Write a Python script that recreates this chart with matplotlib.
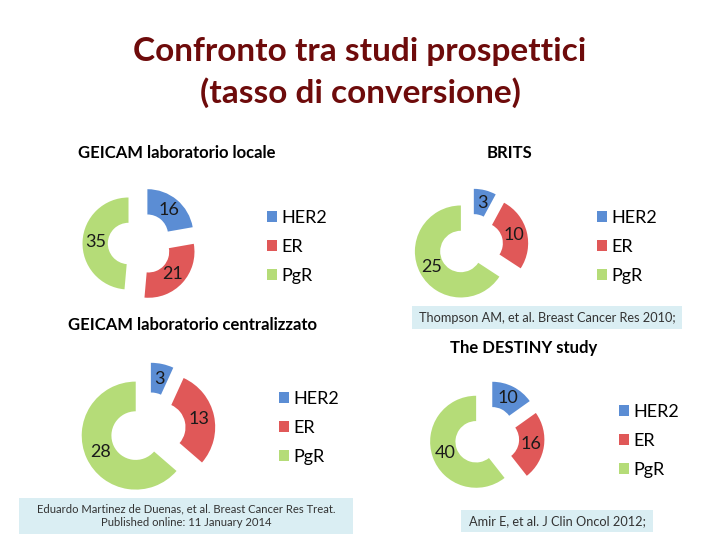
import matplotlib.pyplot as plt
from matplotlib.patches import Rectangle

plt.rcParams['font.family'] = ['Lato', 'DejaVu Sans']

# dati
markers = ['HER2', 'ER', 'PgR']
colors = ['#5B8DD4', '#E05858', '#B5DC78']

titles = ['GEICAM laboratorio locale', 'BRITS',
          'GEICAM laboratorio centralizzato', 'The DESTINY study']
geicam_locale = [16, 21, 35]
brits = [3, 10, 25]
geicam_centr = [3, 13, 28]
destiny = [10, 16, 40]

refs = ['', 'Thompson AM, et al. Breast Cancer Res 2010;',
        'Eduardo Martinez de Duenas, et al. Breast Cancer Res Treat.\nPublished online: 11 January 2014',
        'Amir E, et al. J Clin Oncol 2012;']

W, H = 720, 540
fig = plt.figure(figsize=(7.2, 5.4), dpi=100)
fig.patch.set_facecolor('white')


def fx(x):
    return x / W


def fy(y):
    return 1 - y / H


# titolo
fig.text(fx(360), fy(52), 'Confronto tra studi prospettici', ha='center', va='center',
         fontsize=24, fontweight='bold', color='#6E0B0B')
fig.text(fx(360), fy(93), '(tasso di conversione)', ha='center', va='center',
         fontsize=24, fontweight='bold', color='#6E0B0B')

# (centro x, centro y, raggio, titolo xy, legenda xy, box, font box)
layout = [
    (140, 244, 46, (177, 153), (267, 247), None, 9),
    (471, 246, 46, (510, 153), (597, 247), (412, 306, 682, 329), 9.2),
    (148, 430, 54, (193, 325), (279, 428), (19, 498, 353, 534), 8.1),
    (487, 438, 46, (524, 348), (619, 441), (461, 510, 653, 532), 9.2),
]
data = [geicam_locale, brits, geicam_centr, destiny]

for vals, title, ref, (cx, cy, R, tpos, lpos, box, bfs) in zip(data, titles, refs, layout):
    lim = 1.4
    ax = fig.add_axes([fx(cx - lim * R), fy(cy + lim * R), 2 * lim * R / W, 2 * lim * R / H])
    wedges, texts = ax.pie(vals, colors=colors, startangle=90, counterclock=False,
                           explode=[0.25] * len(vals),
                           labels=[str(v) for v in vals], labeldistance=0.72,
                           wedgeprops=dict(width=0.55, edgecolor='none'),
                           textprops=dict(ha='center', va='center', fontsize=13, color='#1a1a1a'))
    ax.set_xlim(-lim, lim)
    ax.set_ylim(-lim, lim)

    fig.text(fx(tpos[0]), fy(tpos[1]), title, ha='center', va='center',
             fontsize=12, fontweight='bold', color='black')

    fig.legend(wedges, markers, loc='center left', bbox_to_anchor=(fx(lpos[0]), fy(lpos[1])),
               frameon=False, fontsize=13, handlelength=0.55, handleheight=0.55,
               handletextpad=0.25, labelspacing=0.72, borderpad=0, borderaxespad=0)

    if box is not None:
        x0, y0, x1, y1 = box
        fig.patches.append(Rectangle((fx(x0), fy(y1)), (x1 - x0) / W, (y1 - y0) / H,
                                     transform=fig.transFigure, facecolor='#DAEEF3',
                                     edgecolor='none', zorder=0))
        fig.text(fx((x0 + x1) / 2), fy((y0 + y1) / 2), ref, ha='center', va='center',
                 fontsize=bfs, color='#333333', linespacing=1.3)

fig.savefig('out.png', dpi=100)
